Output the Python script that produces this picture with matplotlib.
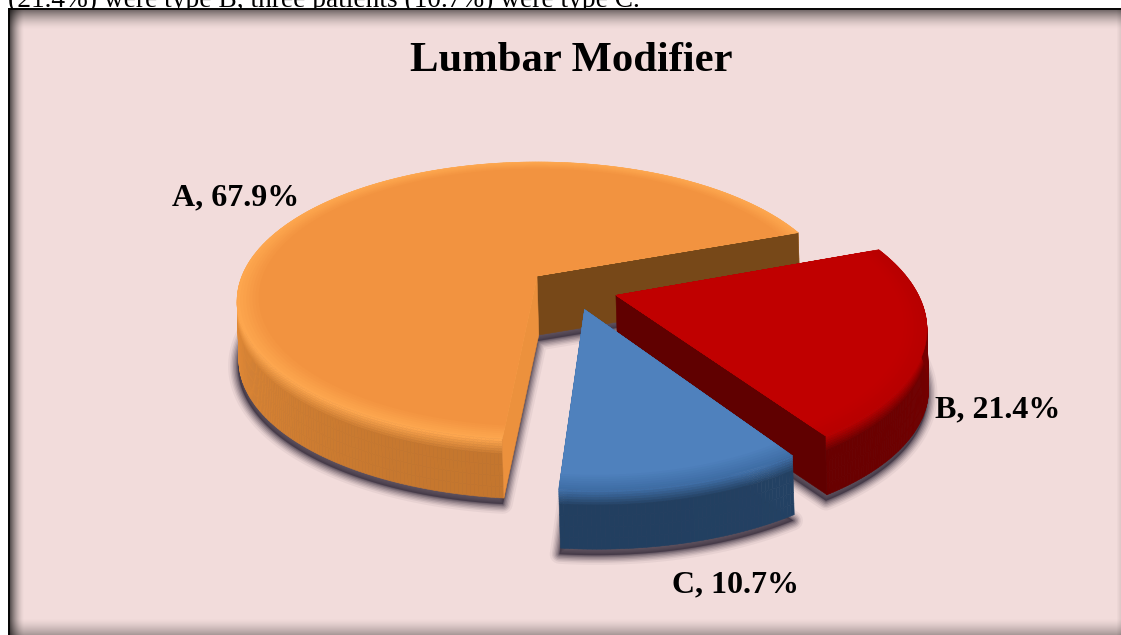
import numpy as np
import matplotlib
matplotlib.use("Agg")
import matplotlib.pyplot as plt
from matplotlib.collections import PolyCollection
from matplotlib.colors import to_rgb
from matplotlib.patches import Polygon

title = "Lumbar Modifier"
caption = "(21.4%) were type B, three patients (10.7%) were type C."
categories = ["A", "B", "C"]
shares = [67.9, 21.4, 10.7]

# colours per slice: top, rim highlight, wall light, wall dark, cut faces
top_colors = ["#f29340", "#c00000", "#4f81bd"]
rim_colors = ["#fda64e", "#b80000", "#3f6ea6"]
wall_light = ["#e88e39", "#7a0000", "#2a4d74"]
wall_dark = ["#c4762e", "#650000", "#223f60"]
cut_colors = [("#774818", "#ec913d"), ("#600000", "#6c0000"), ("#2a4d74", "#2a4d74")]
label_pos = [(236, 198), (998, 410), (736, 585)]

bg = np.array(to_rgb("#f2dcdb"))

# perspective of the disc, fitted on the picture
apex = (537.0, 276.0)
R, K, A = 295.0, 134.5, 0.18
EXPLODE = 0.15
H = 59.0


def project(u, v, z=0.0):
    f = 1.0 / (1.0 + A * v)
    return apex[0] + R * u * f - 0.03 * z, apex[1] - K * v * f - z


def pts(u, v, z=0.0):
    x, y = project(np.asarray(u), np.asarray(v), z)
    return np.column_stack([x, y])


def mix(a, b, t):
    a, b = np.array(to_rgb(a)), np.array(to_rgb(b))
    return tuple(a + (b - a) * t)


fig = plt.figure(figsize=(11.21, 6.35), dpi=100, facecolor="white")
ax = fig.add_axes([0, 0, 1, 1])
ax.axis("off")

ax.text(8, 7, caption, family="Liberation Serif", fontsize=19.7, va="baseline", ha="left", zorder=1)

# chart area with its inner shadow
yy, xx = np.mgrid[8:635, 8:1121]
shade = np.ones(xx.shape)
shade *= 1 - 0.55 * np.clip(1 - (yy - 9) / 20.0, 0, 1) ** 1.6
shade *= 1 - 0.62 * np.clip(1 - (xx - 10) / 14.0, 0, 1) ** 1.6
shade *= 1 - 0.30 * np.clip(1 - (634 - yy) / 16.0, 0, 1) ** 1.4
shade *= 1 - 0.08 * np.clip(1 - (1120 - xx) / 4.0, 0, 1)
ax.imshow(shade[..., None] * bg, extent=(8, 1121, 635, 8), aspect="auto", zorder=2, interpolation="bilinear")
ax.plot([9, 1121], [8.5, 8.5], color="black", lw=1.3, zorder=3, solid_capstyle="butt")
ax.plot([9, 9], [8, 635], color="black", lw=1.3, zorder=3, solid_capstyle="butt")

# slice angles, going clockwise from the first slice
sweep = [s / 100.0 * 360 for s in shares]
a_end = 20.0
bounds = [(a_end, a_end + sweep[0]), (a_end - sweep[1], a_end), (a_end - sweep[1] - sweep[2], a_end - sweep[1])]
mid_a = np.radians(sum(bounds[0]) / 2)

zo = 5
for i, (a0, a1) in enumerate(bounds):
    mid = np.radians((a0 + a1) / 2)
    cu = EXPLODE * (np.cos(mid) - np.cos(mid_a))
    cv = EXPLODE * (np.sin(mid) - np.sin(mid_a))
    t = np.radians(np.linspace(a0, a1, max(int((a1 - a0) * 1.5), 30)))
    au, av = cu + np.cos(t), cv + np.sin(t)
    ou = np.r_[cu, au]
    ov = np.r_[cv, av]

    # soft shadow under the slice
    low = pts(ou, ov, -H) + [-1, 6]
    for lw, al in zip([14, 11, 9, 7, 5, 3, 1.5], [0.06, 0.09, 0.12, 0.15, 0.2, 0.25, 0.3]):
        ax.add_patch(Polygon(low, closed=True, fc="#3b3040", ec="#3b3040", lw=lw, alpha=al,
                             joinstyle="round", zorder=zo))
    zo += 1

    # outer wall, bands from rim down to the foot
    zs = np.r_[np.linspace(0, -H * 0.25, 7), np.linspace(-H * 0.25, -H, 5)[1:]]
    quads, cols = [], []
    for k in range(len(t) - 1):
        front = np.clip(-np.sin((t[k] + t[k + 1]) / 2), 0, 1)
        base = mix(wall_light[i], wall_dark[i], front)
        for j in range(len(zs) - 1):
            p = pts([au[k], au[k + 1]], [av[k], av[k + 1]], zs[j])
            q = pts([au[k + 1], au[k]], [av[k + 1], av[k]], zs[j + 1])
            quads.append(np.vstack([p, q]))
            w = min(1.0, (-zs[j] / (H * 0.25)))
            cols.append(mix(rim_colors[i], base, w))
    ax.add_collection(PolyCollection(quads, facecolors=cols, edgecolors=cols, linewidths=0.4, zorder=zo))
    zo += 1

    # cut faces, only the ones turned to the viewer
    normals = [np.radians(a0 - 90), np.radians(a1 + 90)]
    for (ux, vx), col, nrm in zip([(au[0], av[0]), (au[-1], av[-1])], cut_colors[i], normals):
        if np.sin(nrm) >= 0:
            continue
        face = np.vstack([pts([cu, ux], [cv, vx], 0), pts([ux, cu], [vx, cv], -H)])
        ax.add_patch(Polygon(face, closed=True, fc=col, ec=col, lw=0.4, zorder=zo))
    zo += 1

    # top face with the bevel ring
    ax.add_patch(Polygon(pts(ou, ov), closed=True, fc=rim_colors[i], ec=rim_colors[i], lw=0.4, zorder=zo))
    zo += 1
    steps = np.linspace(1.0, 0.93, 8)
    for n, r in enumerate(steps[1:]):
        ru = np.r_[cu, cu + r * np.cos(t)]
        rv = np.r_[cv, cv + r * np.sin(t)]
        c = mix(rim_colors[i], top_colors[i], (n + 1) / 7.0)
        ax.add_patch(Polygon(pts(ru, rv), closed=True, fc=c, ec="none", zorder=zo))
        zo += 1

ax.text(571, 61, title, family="Liberation Serif", fontweight="bold", fontsize=30.7, ha="center", va="center", zorder=zo)
for name, s, (lx, ly) in zip(categories, shares, label_pos):
    ax.text(lx, ly, f"{name}, {s}%", family="Liberation Serif", fontweight="bold", fontsize=23,
            ha="center", va="center", zorder=zo)

ax.set_xlim(0, 1121)
ax.set_ylim(635, 0)
fig.savefig("out.png", dpi=100)
